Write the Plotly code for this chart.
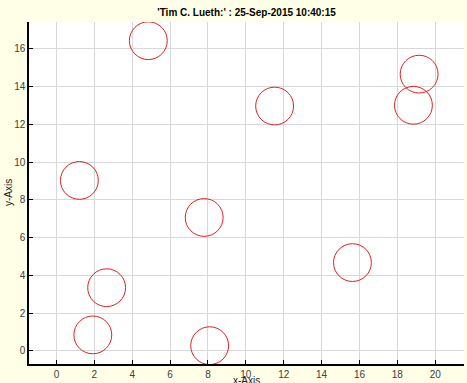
import plotly.graph_objects as go

# circle centers and radius (data units)
cx = [4.85, 19.15, 18.85, 11.52, 1.21, 7.80, 15.63, 2.65, 1.92, 8.09]
cy = [16.43, 14.66, 13.01, 12.97, 9.03, 7.07, 4.68, 3.35, 0.85, 0.28]
radius = [1.0] * len(cx)

x_ticks = list(range(0, 21, 2))
y_ticks = list(range(0, 17, 2))

title_text = "'Tim C. Lueth:' : 25-Sep-2015 10:40:15"
x_label = "x-Axis"
y_label = "y-Axis"

W, H = 467, 383
ML, MR, MT, MB = 29, 3, 22, 19
PW, PH = W - ML - MR, H - MT - MB

fig = go.Figure()
# invisible trace so axes exist
fig.add_trace(go.Scatter(x=cx, y=cy, mode="markers", marker=dict(opacity=0), hoverinfo="skip", showlegend=False))

for x0, y0, r in zip(cx, cy, radius):
    fig.add_shape(type="circle", xref="x", yref="y",
                  x0=x0 - r, x1=x0 + r, y0=y0 - r, y1=y0 + r,
                  line=dict(color="#e02020", width=1))

font = "Liberation Sans, Arial, sans-serif"
fig.update_layout(
    width=W, height=H,
    margin=dict(l=ML, r=MR, t=MT, b=MB),
    paper_bgcolor="#fffee6",
    plot_bgcolor="#ffffff",
    showlegend=False,
    title=dict(text="<b>" + title_text + "</b>", x=0.528, xanchor="center",
               y=1 - 12 / H, yanchor="middle",
               font=dict(family=font, size=10, color="#000000")),
    font=dict(family=font, size=10, color="#404040"),
)
fig.add_annotation(text=x_label, xref="paper", yref="paper", showarrow=False,
                   x=0.5, y=-(380 - (H - MB)) / PH, xanchor="center", yanchor="middle",
                   font=dict(family=font, size=10, color="#202020"))
fig.add_annotation(text=y_label, xref="paper", yref="paper", showarrow=False, textangle=-90,
                   x=(8 - ML) / PW, y=0.5, xanchor="center", yanchor="middle",
                   font=dict(family=font, size=10, color="#202020"))
fig.update_xaxes(range=[-1.45, 21.52], tickvals=x_ticks, ticks="inside", ticklen=4,
                 tickcolor="#000000", showline=True, linecolor="#000000", linewidth=1.5,
                 showgrid=True, gridcolor="#d8d8d8", gridwidth=1, zeroline=False, automargin=False,
                 tickfont=dict(family=font, size=10, color="#404040"))
fig.update_yaxes(range=[-0.69, 17.42], tickvals=y_ticks, ticks="inside", ticklen=4,
                 tickcolor="#000000", showline=True, linecolor="#000000", linewidth=1.5,
                 showgrid=True, gridcolor="#d8d8d8", gridwidth=1, zeroline=False, automargin=False,
                 tickfont=dict(family=font, size=10, color="#404040"))

fig.write_html("out.html")
